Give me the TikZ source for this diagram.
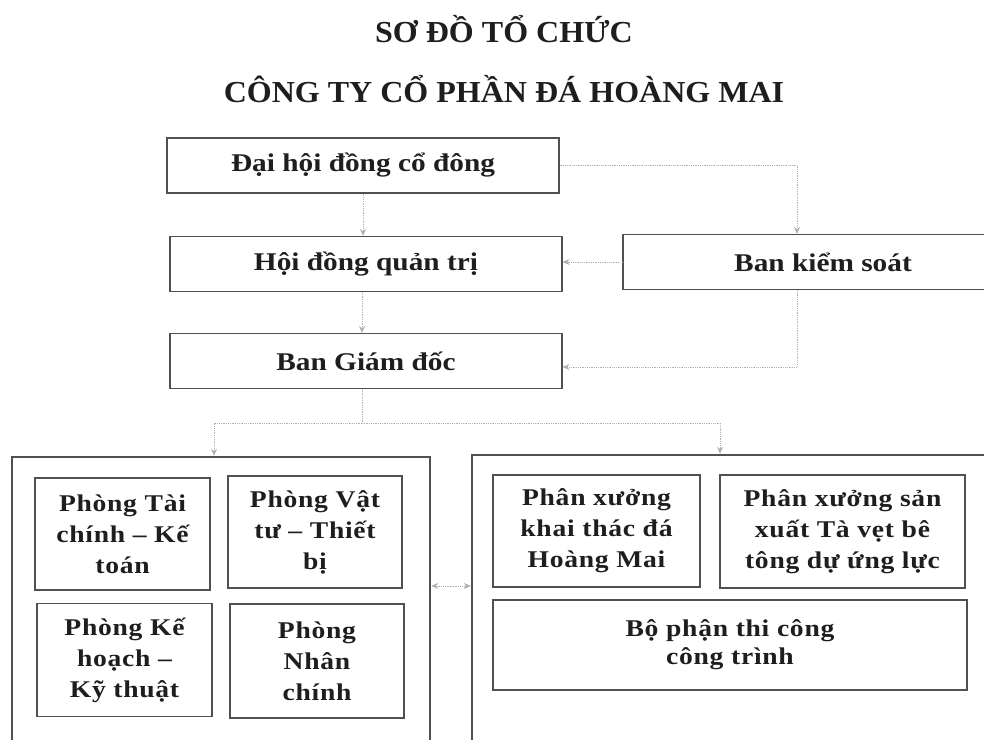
\documentclass[tikz,border=0pt]{standalone}
\usepackage{fontspec}
\setmainfont{Liberation Serif}
\newfontfamily\titlefont[FakeStretch=1.05]{Liberation Serif Bold}
\newfontfamily\boxfont[FakeStretch=1.15]{Liberation Serif Bold}
\newfontfamily\unitfont[FakeStretch=1.15,LetterSpace=3]{Liberation Serif Bold}
\usetikzlibrary{arrows.meta}
\definecolor{boxgray}{HTML}{505050}
\definecolor{txtgray}{HTML}{1E1E1E}
\definecolor{conngray}{HTML}{B0B0B0}
\tikzset{
  topbox/.style={draw=boxgray, line width=1.1pt, minimum width=392, minimum height=55, inner sep=0pt, text=txtgray, font=\boxfont\fontsize{25.5}{30}\selectfont},
  groupbox/.style={draw=boxgray, line width=2.4pt, inner sep=0pt},
  unitbox/.style={draw=boxgray, line width=1.1pt, inner sep=0pt, align=center, text=txtgray, font=\unitfont\fontsize{24}{31}\selectfont},
  conn/.style={draw=conngray, line width=0.8pt, densely dotted},
  tip/.style={-{Stealth[length=7pt,width=6pt]}},
  titletxt/.style={text=txtgray, font=\titlefont\fontsize{30.5}{34}\selectfont, inner sep=0pt}
}
\begin{document}
\begin{tikzpicture}[x=1pt,y=-1pt]
\useasboundingbox (0,0) rectangle (984,739);
\fill[white] (0,0) rectangle (984,739);
\clip (0,0) rectangle (984,739);

\node[titletxt] (t1) at (504,29) {SƠ ĐỒ TỔ CHỨC};
\node[titletxt] (t2) at (504,89) {CÔNG TY CỔ PHẦN ĐÁ HOÀNG MAI};

\node[topbox] (dh) at (363,165.5) {Đại hội đồng cổ đông};
\node[topbox] (hd) at (366,264) {Hội đồng quản trị};
\node[topbox, minimum width=400] (bks) at (823,262) {Ban kiểm soát};
\node[topbox] (bgd) at (366,361) {Ban Giám đốc};

\node[groupbox, minimum width=418, minimum height=290] (gl) at (221,602) {};
\node[groupbox, minimum width=530, minimum height=292] (gr) at (737,601) {};

\node[unitbox, minimum width=175, minimum height=112] (p1) at (122.5,534) {Phòng Tài\\chính – Kế\\toán};
\node[unitbox, minimum width=174, minimum height=112] (p2) at (315,532) {Phòng Vật\\tư – Thiết\\bị};
\node[unitbox, minimum width=175, minimum height=113] (p3) at (124.5,660) {Phòng Kế\\hoạch –\\Kỹ thuật};
\node[unitbox, minimum width=174, minimum height=114] (p4) at (317,661) {Phòng\\Nhân\\chính};

\node[unitbox, minimum width=207, minimum height=112] (x1) at (596.5,531) {Phân xưởng\\khai thác đá\\Hoàng Mai};
\node[unitbox, minimum width=245, minimum height=113] (x2) at (842.5,531.5) {Phân xưởng sản\\xuất Tà vẹt bê\\tông dự ứng lực};
\node[unitbox, minimum width=474, minimum height=90, font=\unitfont\fontsize{24}{28}\selectfont] (x3) at (730,645) {Bộ phận thi công\\công trình};

% connectors
\draw[conn, tip] (dh.south) -- (dh.south |- hd.north);
\draw[conn, tip] (dh.east) -| ([xshift=-26]bks.north);
\draw[conn, tip] (bks.west) -- (bks.west -| hd.east);
\draw[conn, tip] ([xshift=-4]hd.south) -- ([xshift=-4]bgd.north);
\draw[conn, tip] ([xshift=-26]bks.south) |- ([yshift=-6]bgd.east);
\draw[conn] ([xshift=-4]bgd.south) -- ++(0,34) coordinate (j);
\draw[conn, tip] (j) -| ([xshift=-7]gl.north);
\draw[conn, tip] (j) -| ([xshift=-17]gr.north);
\coordinate (m) at (451,586);
\draw[conn, tip] (m) -- (m -| gl.east);
\draw[conn, tip] (m) -- (m -| gr.west);
\end{tikzpicture}
\end{document}
